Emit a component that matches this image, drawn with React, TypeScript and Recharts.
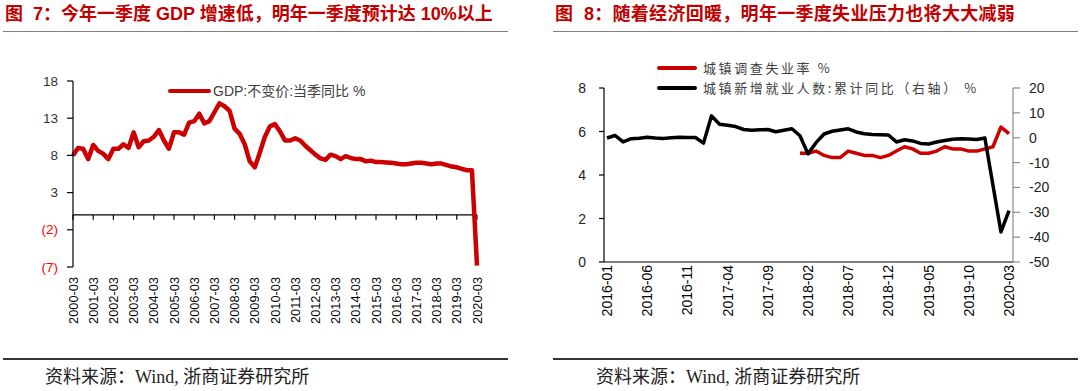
import React from 'react';
import { LineChart, Line, XAxis, YAxis, ReferenceLine } from 'recharts';

// ---------- Chart 7 data: GDP constant price, quarterly YoY ----------
const gdpYears = ['2000','2001','2002','2003','2004','2005','2006','2007','2008','2009','2010','2011','2012','2013','2014','2015','2016','2017','2018','2019','2020'];
const quarterMonths = ['03', '06', '09', '12'];
const gdpQuarters: string[] = [];
gdpYears.forEach((y) => quarterMonths.forEach((m) => { if (y !== '2020' || m === '03') gdpQuarters.push(`${y}-${m}`); }));
const gdpValues = [
  8.0, 9.0, 8.9, 7.5,
  9.4, 8.6, 8.2, 7.5,
  8.9, 8.9, 9.5, 9.0,
  11.1, 9.1, 9.9, 10.0,
  10.5, 11.4, 10.0, 8.9,
  11.1, 11.1, 10.8, 12.4,
  12.6, 13.6, 12.3, 12.6,
  13.8, 15.0, 14.6, 14.0,
  11.6, 10.9, 9.5, 7.2,
  6.4, 8.4, 10.5, 11.9,
  12.2, 11.2, 10.0, 10.0,
  10.3, 10.0, 9.3, 8.7,
  8.1, 7.6, 7.4, 8.1,
  7.9, 7.5, 7.9, 7.65,
  7.5, 7.5, 7.2, 7.3,
  7.1, 7.1, 7.05, 7.0,
  6.9, 6.8, 6.8, 6.9,
  7.0, 7.0, 6.9, 6.8,
  6.9, 6.9, 6.7, 6.5,
  6.4, 6.2, 6.0, 6.0,
  -6.8,
];
const gdpYTicks = [18, 13, 8, 3, -2, -7];
const gdpYearTicks = gdpQuarters.filter((q) => q.endsWith('-03'));

// ---------- Chart 8 data: monthly ----------
const monthYears = ['2016', '2017', '2018', '2019', '2020'];
const monthNums = ['01','02','03','04','05','06','07','08','09','10','11','12'];
const months: string[] = [];
monthYears.forEach((y) => monthNums.forEach((m) => { if (y !== '2020' || Number(m) <= 3) months.push(`${y}-${m}`); }));
const unemploymentRate: (number | null)[] = [
  null, null, null, null, null, null, null, null, null, null, null, null,
  null, null, null, null, null, null, null, null, null, null, null, null,
  5.0, 5.0, 5.1, 4.9, 4.8, 4.8, 5.1, 5.0, 4.9, 4.9, 4.8, 4.9,
  5.1, 5.3, 5.2, 5.0, 5.0, 5.1, 5.3, 5.2, 5.2, 5.1, 5.1, 5.2,
  5.3, 6.2, 5.9,
];
const newJobsYoY: (number | null)[] = [
  -0.1, 0.9, -1.7, -0.4, -0.2, 0.2, -0.1, -0.3, 0.0, 0.2, 0.1, 0.1,
  -2.2, 8.8, 5.4, 5.0, 4.5, 3.3, 3.0, 3.2, 3.3, 2.4, 3.0, 3.6,
  0.8, -6.5, -2.0, 1.5, 2.6, 3.1, 3.6, 2.3, 1.6, 1.3, 1.2, 1.1,
  -1.7, -0.8, -1.3, -2.3, -2.5, -1.7, -1.1, -0.6, -0.4, -0.5, -0.7, -0.1,
  null, -37.9, -29.3,
];
const leftTicks8 = [0, 2, 4, 6, 8];
const rightTicks8 = [20, 10, 0, -10, -20, -30, -40, -50];

const gdpData = gdpQuarters.map((q, i) => ({ q, gdp: gdpValues[i] }));
const jobData = months.map((m, i) => ({ m, rate: unemploymentRate[i], jobs: newJobsYoY[i] }));

const SANS = '"Liberation Sans", Arial, "Noto Sans CJK SC", sans-serif';

const XRotTick = (props: any) => {
  const { x, y, payload, fs, dy } = props;
  const yy = y + dy;
  return (
    <text x={x} y={yy} transform={`rotate(-90 ${x} ${yy})`} textAnchor="end" dominantBaseline="central"
      fontSize={fs} fill="#000" fontFamily={SANS}>{payload.value}</text>
  );
};

const GdpYTick = (props: any) => {
  const { x, y, payload } = props;
  const v = payload.value as number;
  return (
    <text x={x} y={y} textAnchor="end" dominantBaseline="central" fontSize={13.5} fontFamily={SANS}
      fill={v < 0 ? '#FF0000' : '#333'}>{v < 0 ? `(${-v})` : `${v}`}</text>
  );
};

const SideTick = (props: any) => {
  const { x, y, payload, anchor } = props;
  return (
    <text x={x} y={y} textAnchor={anchor} dominantBaseline="central" fontSize={14} fontFamily={SANS} fill="#222">{payload.value}</text>
  );
};

const abs = (s: React.CSSProperties): React.CSSProperties => ({ position: 'absolute', ...s });
const SERIF = '"Liberation Serif", "Noto Sans CJK SC", serif';

export default function App() {
  return (
    <div style={abs({ left: 0, top: 0, width: 1080, height: 391, background: '#fff', overflow: 'hidden' })}>
      {/* Titles */}
      <div style={abs({ left: 5, top: 3, fontSize: 18, lineHeight: '22px', fontWeight: 'bold', color: '#C00000', whiteSpace: 'nowrap', fontFamily: SANS })}>
        图&nbsp;&nbsp;7：今年一季度 GDP 增速低，明年一季度预计达 10%以上
      </div>
      <div style={abs({ left: 555, top: 3, fontSize: 18, lineHeight: '22px', fontWeight: 'bold', color: '#C00000', whiteSpace: 'nowrap', letterSpacing: 0.3, fontFamily: SANS })}>
        图&nbsp;&nbsp;8：随着经济回暖，明年一季度失业压力也将大大减弱
      </div>
      <div style={abs({ left: 3, top: 31, width: 505, borderTop: '1.5px solid #808080' })} />
      <div style={abs({ left: 553, top: 31, width: 525, borderTop: '1.5px solid #808080' })} />

      {/* Bottom source */}
      <div style={abs({ left: 3, top: 358, width: 505, borderTop: '2px solid #333' })} />
      <div style={abs({ left: 553, top: 358, width: 525, borderTop: '2px solid #333' })} />
      <div style={abs({ left: 45, top: 367, fontSize: 18, lineHeight: '20px', color: '#222', whiteSpace: 'nowrap', fontFamily: SERIF })}>
        资料来源：Wind, 浙商证券研究所
      </div>
      <div style={abs({ left: 596, top: 367, fontSize: 18, lineHeight: '20px', color: '#222', whiteSpace: 'nowrap', fontFamily: SERIF })}>
        资料来源：Wind, 浙商证券研究所
      </div>

      {/* Chart 7 */}
      <div style={abs({ left: 0, top: 0 })}>
        <LineChart width={540} height={391} data={gdpData} margin={{ top: 81, right: 63, bottom: 64, left: 0 }}>
          <XAxis dataKey="q" interval={3} axisLine={false} tickLine={false} tickSize={0} tickMargin={0} height={60}
            tick={(p: any) => <XRotTick {...p} fs={12.8} dy={10} />} />
          <YAxis width={73} domain={[-7, 18]} ticks={gdpYTicks} allowDataOverflow
            axisLine={{ stroke: '#000', strokeWidth: 1.2 }} tickLine={{ stroke: '#000', strokeWidth: 1.2 }}
            tickSize={6} tickMargin={9} tick={(p: any) => <GdpYTick {...p} />} />
          <ReferenceLine y={0} stroke="#000" strokeWidth={1.2} />
          {gdpYearTicks.map((q) => (
            <ReferenceLine key={q} segment={[{ x: q, y: 0 }, { x: q, y: -0.65 }]} stroke="#000" strokeWidth={1.2} />
          ))}
          <Line dataKey="gdp" stroke="#CC0000" strokeWidth={4.5} dot={false} isAnimationActive={false} strokeLinejoin="round" />
        </LineChart>
      </div>
      {/* Chart 7 legend */}
      <div style={abs({ left: 168, top: 88.5, width: 43, height: 4.5, background: '#CC0000', borderRadius: 2 })} />
      <div style={abs({ left: 213, top: 82, fontSize: 14, lineHeight: '18px', color: '#404040', whiteSpace: 'nowrap', fontFamily: SANS })}>
        GDP:不变价:当季同比 %
      </div>

      {/* Chart 8 */}
      <div style={abs({ left: 540, top: 0 })}>
        <LineChart width={540} height={391} data={jobData} margin={{ top: 88, right: 0, bottom: 69, left: 0 }}>
          <XAxis dataKey="m" interval={4} padding={{ left: 3, right: 4 }}
            axisLine={{ stroke: '#000', strokeWidth: 1.2 }} tickLine={false} tickSize={0} tickMargin={0} height={60}
            tick={(p: any) => <XRotTick {...p} fs={14} dy={3} />} />
          <YAxis yAxisId="left" width={64} domain={[0, 8]} ticks={leftTicks8}
            axisLine={{ stroke: '#000', strokeWidth: 1.2 }} tickLine={{ stroke: '#000', strokeWidth: 1.2 }}
            tickSize={5} tickMargin={13} tick={(p: any) => <SideTick {...p} anchor="end" />} />
          <YAxis yAxisId="right" orientation="right" width={67} domain={[-50, 20]} ticks={rightTicks8}
            axisLine={{ stroke: '#8c8c8c', strokeWidth: 1.2 }} tickLine={{ stroke: '#8c8c8c', strokeWidth: 1.2 }}
            tickSize={7} tickMargin={9} tick={(p: any) => <SideTick {...p} anchor="start" />} />
          <Line yAxisId="left" dataKey="rate" stroke="#CC0000" strokeWidth={3.5} dot={false} isAnimationActive={false} strokeLinejoin="round" />
          <Line yAxisId="right" dataKey="jobs" stroke="#000" strokeWidth={3.5} dot={false} connectNulls isAnimationActive={false} strokeLinejoin="round" />
        </LineChart>
      </div>
      {/* Chart 8 legend */}
      <div style={abs({ left: 657, top: 66.3, width: 40, height: 4, background: '#CC0000', borderRadius: 2 })} />
      <div style={abs({ left: 703, top: 59, fontSize: 13, lineHeight: '18px', letterSpacing: 2.6, color: '#404040', whiteSpace: 'nowrap', fontFamily: '"Noto Sans CJK SC", sans-serif' })}>
        城镇调查失业率 %
      </div>
      <div style={abs({ left: 657, top: 86.3, width: 40, height: 4, background: '#000', borderRadius: 2 })} />
      <div style={abs({ left: 703, top: 79, fontSize: 13, lineHeight: '18px', letterSpacing: 2.6, color: '#404040', whiteSpace: 'nowrap', fontFamily: '"Noto Sans CJK SC", sans-serif' })}>
        城镇新增就业人数:累计同比（右轴） %
      </div>
    </div>
  );
}
